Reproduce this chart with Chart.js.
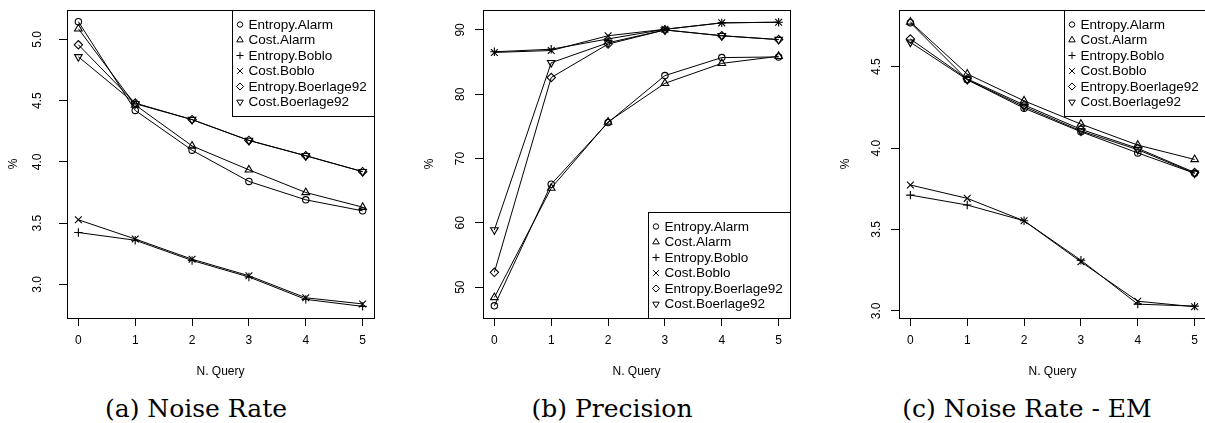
<!DOCTYPE html>
<html>
<head>
<meta charset="utf-8">
<script src="https://cdn.jsdelivr.net/npm/chart.js@4/dist/chart.umd.min.js"></script>
<style>
  html, body { margin: 0; padding: 0; background: #fff; }
  body { width: 1205px; height: 423px; overflow: hidden; position: relative; }
  canvas { position: absolute; top: 0; }
  .caption {
    position: absolute; top: 396px; width: 400px; text-align: center;
    font-family: "DejaVu Serif", serif; font-size: 25px; line-height: 25px; color: #000;
  }
</style>
</head>
<body>
<canvas id="chartA" width="400" height="385" style="left:0px"></canvas>
<canvas id="chartB" width="400" height="385" style="left:416px"></canvas>
<canvas id="chartC" width="400" height="385" style="left:832px"></canvas>
<div class="caption" style="left:-4px">(a) Noise Rate</div>
<div class="caption" style="left:412px">(b) Precision</div>
<div class="caption" style="left:827px">(c) Noise Rate - EM</div>

<script>
/* data */
var queries = [0, 1, 2, 3, 4, 5];
var seriesNames = ['Entropy.Alarm', 'Cost.Alarm', 'Entropy.Boblo', 'Cost.Boblo', 'Entropy.Boerlage92', 'Cost.Boerlage92'];

// (a) Noise Rate
var noiseEntropyAlarm     = [5.145, 4.42, 4.095, 3.84, 3.69, 3.60];
var noiseCostAlarm        = [5.087, 4.465, 4.13, 3.935, 3.75, 3.63];
var noiseEntropyBoblo     = [3.423, 3.36, 3.195, 3.06, 2.877, 2.82];
var noiseCostBoblo        = [3.527, 3.37, 3.205, 3.07, 2.89, 2.84];
var noiseEntropyBoerlage  = [4.956, 4.48, 4.345, 4.175, 4.05, 3.92];
var noiseCostBoerlage     = [4.858, 4.475, 4.345, 4.175, 4.05, 3.92];
var noiseTicks = [3.0, 3.5, 4.0, 4.5, 5.0];

// (b) Precision
var precEntropyAlarm    = [47.1, 66.0, 75.6, 82.9, 85.7, 85.8];
var precCostAlarm       = [48.4, 65.4, 75.7, 81.7, 84.8, 85.9];
var precEntropyBoblo    = [86.6, 87.0, 88.6, 90.1, 91.1, 91.2];
var precCostBoblo       = [86.5, 86.8, 89.1, 90.1, 91.1, 91.2];
var precEntropyBoerlage = [52.3, 82.6, 87.8, 90.0, 89.1, 88.5];
var precCostBoerlage    = [58.9, 84.9, 88.0, 90.0, 89.1, 88.5];
var precTicks = [50, 60, 70, 80, 90];

// (c) Noise Rate - EM
var emEntropyAlarm    = [4.77, 4.42, 4.245, 4.10, 3.97, 3.845];
var emCostAlarm       = [4.775, 4.455, 4.29, 4.147, 4.018, 3.93];
var emEntropyBoblo    = [3.711, 3.65, 3.553, 3.311, 3.041, 3.029];
var emCostBoblo       = [3.773, 3.691, 3.553, 3.301, 3.059, 3.025];
var emEntropyBoerlage = [4.67, 4.425, 4.265, 4.115, 3.998, 3.85];
var emCostBoerlage    = [4.65, 4.42, 4.255, 4.105, 3.99, 3.845];
var emTicks = [3.0, 3.5, 4.0, 4.5];

var AXIS_FONT = { family: 'Liberation Sans, Arial, sans-serif', size: 12 };
var LEGEND_FONT = '13.5px "Liberation Sans", Arial, sans-serif';

// R pch 1,2,3,4,5,6
var markers = [
  { style: 'circle',   radius: 3.2, rotation: 0 },
  { style: 'triangle', radius: 4.4, rotation: 0 },
  { style: 'cross',    radius: 4.2, rotation: 0 },
  { style: 'crossRot', radius: 4.8, rotation: 0 },
  { style: 'rectRot',  radius: 4.2, rotation: 0 },
  { style: 'triangle', radius: 4.4, rotation: 180 }
];

var makeDatasets = function(seriesList) {
  return seriesList.map(function(values, i) {
    return {
      label: seriesNames[i],
      data: values.map(function(v, j) { return { x: queries[j], y: v }; }),
      borderColor: '#000',
      borderWidth: 1,
      tension: 0,
      pointStyle: markers[i].style,
      pointRotation: markers[i].rotation,
      pointRadius: markers[i].radius,
      pointBorderColor: '#000',
      pointBackgroundColor: 'rgba(0,0,0,0)',
      pointBorderWidth: 1.1
    };
  });
};

/* plot frame, like R's box() */
var frameBox = {
  id: 'frameBox',
  afterDraw: function(chart) {
    var a = chart.chartArea, ctx = chart.ctx;
    ctx.save();
    ctx.strokeStyle = '#000';
    ctx.lineWidth = 1;
    ctx.strokeRect(Math.round(a.left) + 0.5, Math.round(a.top) + 0.5,
                   Math.round(a.right - a.left), Math.round(a.bottom - a.top));
    ctx.restore();
  }
};

/* legend box inside the plot */
var boxLegend = {
  id: 'boxLegend',
  afterDatasetsDraw: function(chart, args, opts) {
    var a = chart.chartArea, ctx = chart.ctx;
    var w = 142, h = 106;
    var x0 = Math.round(a.right - w) + 0.5;
    var y0 = opts.bottom ? Math.round(a.bottom - h) + 0.5 : Math.round(a.top) + 0.5;
    ctx.save();
    ctx.fillStyle = '#fff';
    ctx.fillRect(x0, y0, w, h);
    ctx.strokeStyle = '#000';
    ctx.lineWidth = 1;
    ctx.strokeRect(x0, y0, w, h);
    ctx.font = LEGEND_FONT;
    ctx.textBaseline = 'middle';
    chart.data.datasets.forEach(function(ds, i) {
      var cy = y0 + 14 + i * 15.5;
      var m = markers[i];
      ctx.fillStyle = 'rgba(0,0,0,0)';
      ctx.strokeStyle = '#000';
      Chart.helpers.drawPoint(ctx, {
        pointStyle: m.style, rotation: m.rotation, radius: m.radius * 0.85, borderWidth: 1
      }, x0 + 7.5, cy);
      ctx.fillStyle = '#000';
      ctx.fillText(ds.label, x0 + 16, cy + 0.5);
    });
    ctx.restore();
  }
};

var makeChart = function(elementId, seriesList, yMin, yMax, yTicks, digits, yPad, legendBottom) {
  return new Chart(document.getElementById(elementId), {
    type: 'line',
    data: { datasets: makeDatasets(seriesList) },
    options: {
      responsive: false,
      animation: false,
      devicePixelRatio: 1,
      layout: { padding: { top: 10, right: 26, left: 0, bottom: 0 } },
      plugins: {
        legend: { display: false },
        tooltip: { enabled: false },
        boxLegend: { bottom: legendBottom }
      },
      scales: {
        x: {
          type: 'linear',
          min: -0.2,
          max: 5.2,
          afterBuildTicks: function(scale) {
            scale.ticks = queries.map(function(q) { return { value: q }; });
          },
          afterFit: function(scale) {
            scale.height = 67;
            scale.paddingLeft = 0;
            scale.paddingRight = 0;
          },
          grid: { display: true, drawOnChartArea: false, drawTicks: true, tickLength: 8, color: '#000' },
          border: { display: false },
          ticks: { color: '#000', font: AXIS_FONT, padding: 7, maxRotation: 0,
                   callback: function(v) { return String(v); } },
          title: { display: true, text: 'N. Query', color: '#000', font: AXIS_FONT,
                   padding: { top: 0, bottom: 6 } }
        },
        y: {
          type: 'linear',
          min: yMin,
          max: yMax,
          afterBuildTicks: function(scale) {
            scale.ticks = yTicks.map(function(t) { return { value: t }; });
          },
          afterFit: function(scale) {
            scale.width = 67;
            scale.paddingTop = 0;
            scale.paddingBottom = 0;
          },
          grid: { display: true, drawOnChartArea: false, drawTicks: true, tickLength: 8, color: '#000' },
          border: { display: false },
          ticks: { color: '#000', font: AXIS_FONT, padding: yPad, minRotation: 90, maxRotation: 90,
                   crossAlign: 'center',
                   callback: function(v) { return Number(v).toFixed(digits); } },
          title: { display: true, text: '%', color: '#000', font: AXIS_FONT,
                   padding: { top: 6, bottom: 0 } }
        }
      }
    },
    plugins: [frameBox, boxLegend]
  });
};

makeChart('chartA',
  [noiseEntropyAlarm, noiseCostAlarm, noiseEntropyBoblo, noiseCostBoblo, noiseEntropyBoerlage, noiseCostBoerlage],
  2.725, 5.24, noiseTicks, 1, 13, false);

makeChart('chartB',
  [precEntropyAlarm, precCostAlarm, precEntropyBoblo, precCostBoblo, precEntropyBoerlage, precCostBoerlage],
  45.2, 93.1, precTicks, 0, 8, true);

makeChart('chartC',
  [emEntropyAlarm, emCostAlarm, emEntropyBoblo, emCostBoblo, emEntropyBoerlage, emCostBoerlage],
  2.956, 4.848, emTicks, 1, 6, false);
</script>
</body>
</html>
